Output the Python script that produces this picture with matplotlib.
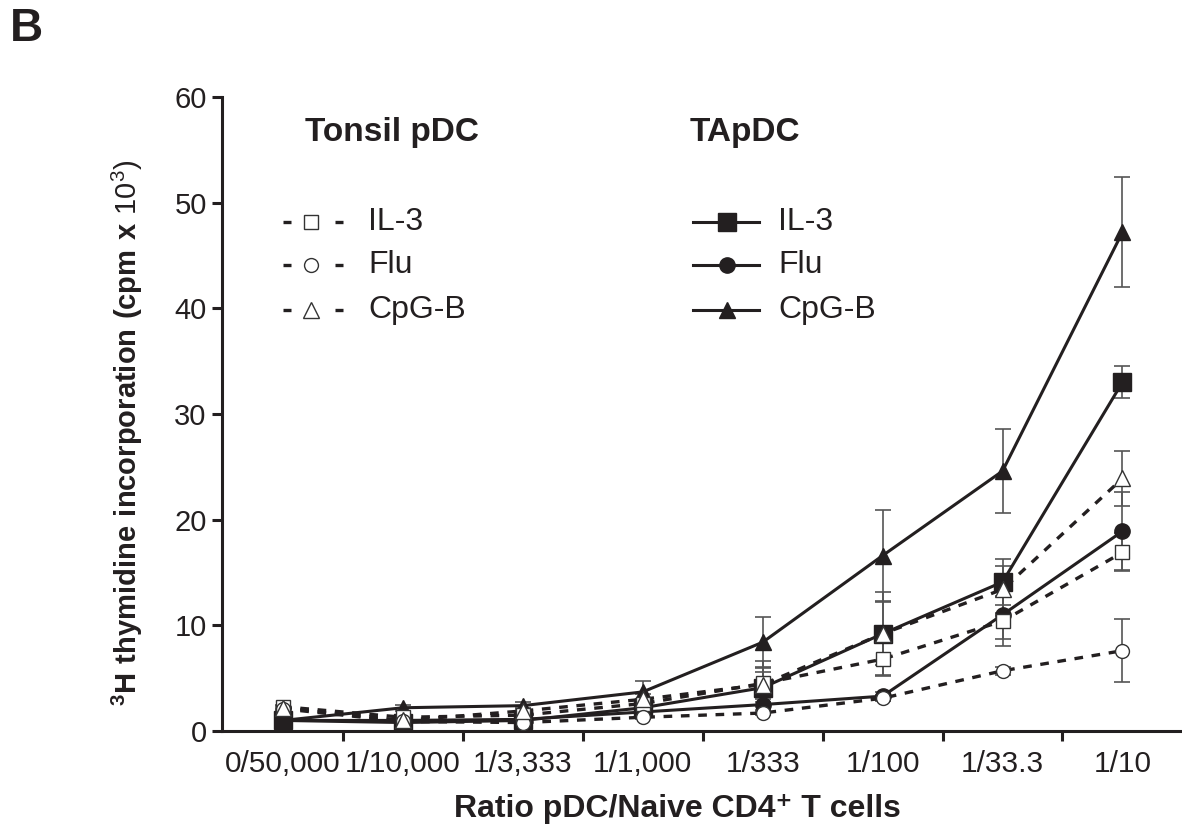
import numpy as np
import matplotlib as mpl, matplotlib.pyplot as plt

mpl.rcParams.update({"font.family": ["Liberation Sans", "DejaVu Sans"], "axes.linewidth": 2.2,
                     "mathtext.fontset": "custom", "mathtext.rm": "Liberation Sans",
                     "mathtext.bf": "Liberation Sans:bold"})
INK = "#231f20"; EBAR = "#555555"

cats = ["0/50,000", "1/10,000", "1/3,333", "1/1,000", "1/333", "1/100", "1/33.3", "1/10"]

# TApDC (solid line, filled markers)
ta_il3 = [1.0, 0.8, 1.0, 2.2, 4.1, 9.2, 14.1, 33.0]
ta_il3_err = [0.2, 0.2, 0.2, 0.4, 2.5, 4.0, 2.2, 1.5]
ta_flu = [1.0, 1.0, 1.1, 1.8, 2.5, 3.3, 11.0, 18.9]
ta_flu_err = [0.1, 0.1, 0.2, 0.3, 0.5, 0.4, 2.3, 3.7]
ta_cpg = [1.0, 2.2, 2.4, 3.7, 8.4, 16.6, 24.6, 47.2]
ta_cpg_err = [0.2, 0.3, 0.3, 1.0, 2.4, 4.3, 4.0, 5.2]

# Tonsil pDC (dashed line, open markers)
to_il3 = [2.3, 1.3, 1.5, 2.6, 4.5, 6.8, 10.4, 16.9]
to_il3_err = [0.2, 0.2, 0.3, 0.4, 1.1, 1.5, 2.4, 1.8]
to_flu = [2.1, 0.9, 0.8, 1.3, 1.7, 3.1, 5.7, 7.6]
to_flu_err = [0.1, 0.1, 0.1, 0.2, 0.2, 0.3, 0.4, 3.0]
to_cpg = [2.2, 1.0, 1.9, 3.0, 4.4, 9.2, 13.4, 23.9]
to_cpg_err = [0.2, 0.2, 0.3, 0.5, 1.7, 3.0, 2.2, 2.6]

fig = plt.figure(figsize=(11.82, 8.26), dpi=100)
ax = fig.add_axes([222/1182, 1-731/826, (1180-222)/1182, (731-97)/826])
x = np.arange(len(cats))

DASH = (2.6, 2.6)
MS = {"s": 10, "o": 10, "^": 11}
FMS = {"s": 13, "o": 11, "^": 12}
ta = [(ta_il3, ta_il3_err, "s"), (ta_flu, ta_flu_err, "o"), (ta_cpg, ta_cpg_err, "^")]
to = [(to_il3, to_il3_err, "s"), (to_flu, to_flu_err, "o"), (to_cpg, to_cpg_err, "^")]

for y, e, m in ta + to:
    ax.errorbar(x, y, yerr=e, fmt="none", ecolor=EBAR, elinewidth=1.2, capsize=6, capthick=1.2, zorder=1)
for y, e, m in to:
    ax.plot(x, y, color=INK, lw=2.4, dashes=DASH, zorder=2)
for y, e, m in ta:
    ax.plot(x, y, color=INK, lw=2.2, marker=m, ms=FMS[m], mfc=INK, mec=INK, zorder=3)
for y, e, m in to:
    ax.plot(x, y, ls="none", marker=m, ms=MS[m], mfc="white", mec="#333333", mew=1.0, zorder=4)

ax.set_xlim(-0.509, 7.48); ax.set_ylim(0, 60)
ax.spines["top"].set_visible(False); ax.spines["right"].set_visible(False)
for s in ("left", "bottom"): ax.spines[s].set_color(INK)
ax.set_yticks(np.arange(0, 61, 10))
ax.tick_params(axis="y", length=7, width=2.2, color=INK, labelsize=21, pad=4, labelcolor=INK)
ax.set_xticks(x); ax.set_xticklabels(cats)
ax.set_xticks(x[:-1] + 0.5, minor=True)
ax.tick_params(axis="x", which="major", length=0, labelsize=21.5, pad=14, labelcolor=INK)
ax.tick_params(axis="x", which="minor", length=7, width=2.2, color=INK)

ax.set_xlabel("Ratio pDC/Naive CD4\u207a T cells", fontsize=23, fontweight="bold", color=INK)
ax.xaxis.set_label_coords(0.475, -0.1)
ax.set_ylabel(r"$\mathbf{{}^{3}H\ thymidine\ incorporation\ (cpm\ x\ }\mathrm{10^{3})}$",
              fontsize=21, color=INK)
ax.yaxis.set_label_coords(-0.080, 0.47)

# group headers
ax.text(0.91, 56.6, "Tonsil pDC", fontsize=24, fontweight="bold", ha="center", va="center", color=INK)
ax.text(3.85, 56.6, "TApDC", fontsize=24, fontweight="bold", ha="center", va="center", color=INK)

# legends drawn by hand
labels = ["IL-3", "Flu", "CpG-B"]
rows = [48.2, 44.1, 39.8]
for lab, yy, m in zip(labels, rows, ["s", "o", "^"]):
    ax.plot([0.0, 0.07], [yy, yy], color=INK, lw=2.4, solid_capstyle="butt", clip_on=False)
    ax.plot([0.43, 0.50], [yy, yy], color=INK, lw=2.4, solid_capstyle="butt", clip_on=False)
    ax.plot([0.23], [yy], ls="none", marker=m, ms=MS[m], mfc="white", mec="#333333", mew=1.0)
    ax.text(0.71, yy, lab, fontsize=23, va="center", ha="left", color=INK)
    ax.plot([3.42, 3.97], [yy, yy], color=INK, lw=2.2, clip_on=False)
    ax.plot([3.70], [yy], ls="none", marker=m, ms=FMS[m], mfc=INK, mec=INK)
    ax.text(4.13, yy, lab, fontsize=23, va="center", ha="left", color=INK)

fig.text(10/1182, 1-29/826, "B", fontsize=33, fontweight="bold", va="center", ha="left", color=INK)
fig.savefig("out.png", dpi=100)
